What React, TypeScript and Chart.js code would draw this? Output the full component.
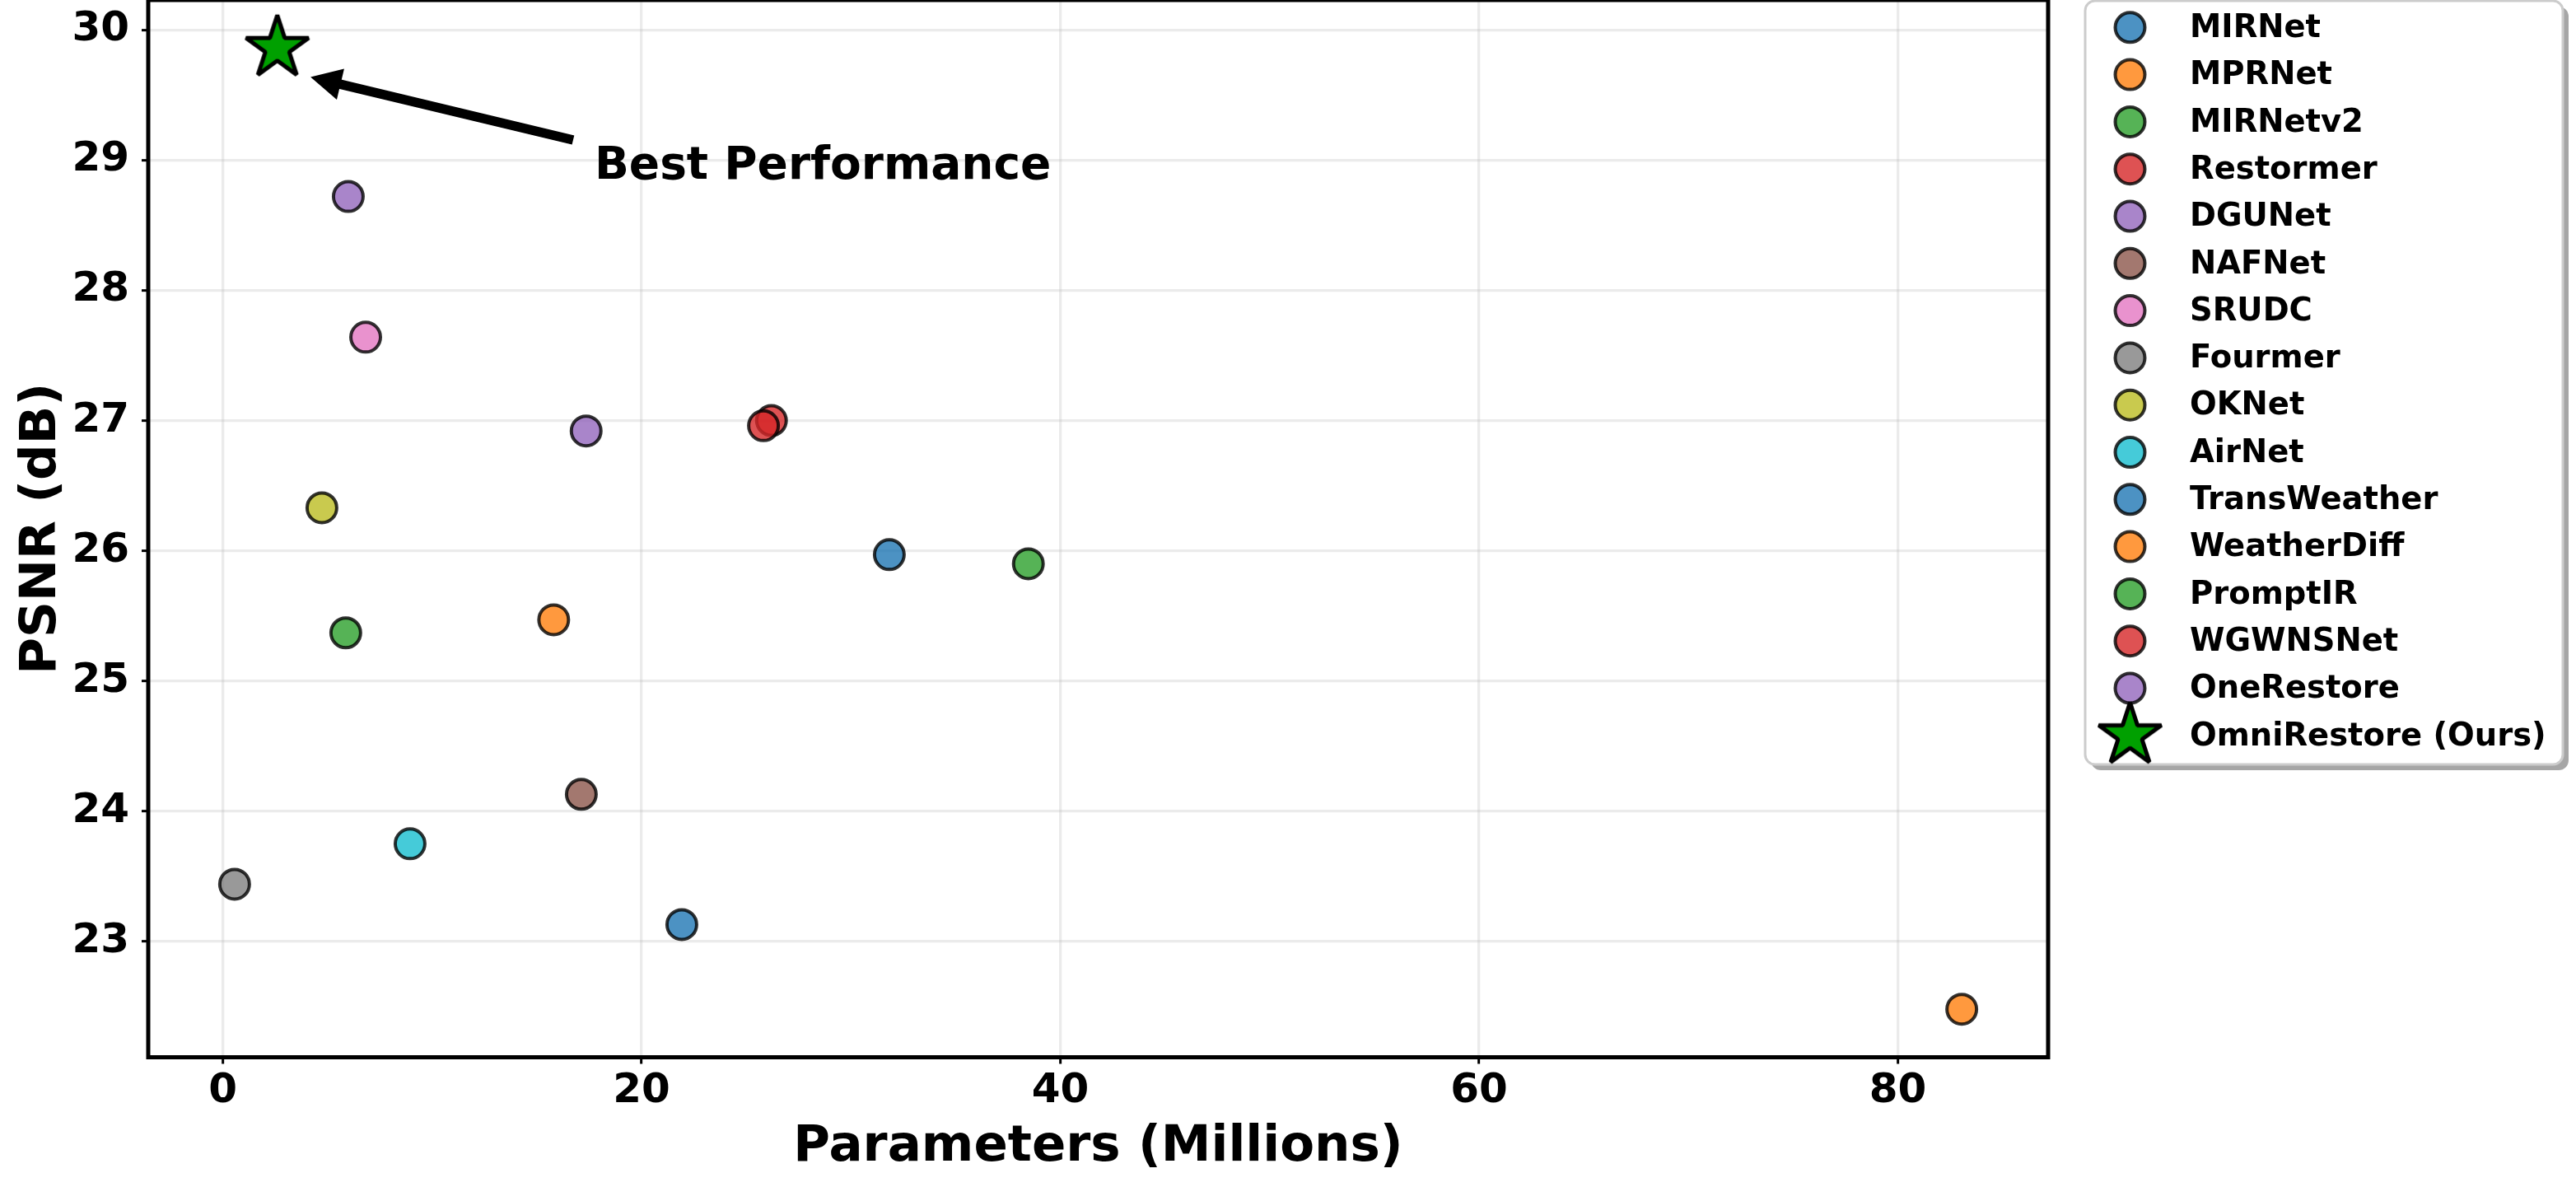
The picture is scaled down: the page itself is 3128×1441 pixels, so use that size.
import React, { useEffect, useRef } from 'react';
import { Chart, registerables } from 'chart.js';

Chart.register(...registerables);

// ---- data ---------------------------------------------------------------
const methods = [
  'MIRNet', 'MPRNet', 'MIRNetv2', 'Restormer', 'DGUNet', 'NAFNet', 'SRUDC', 'Fourmer',
  'OKNet', 'AirNet', 'TransWeather', 'WeatherDiff', 'PromptIR', 'WGWNSNet', 'OneRestore',
  'OmniRestore (Ours)',
];
// parameter count in millions
const params = [31.83, 15.8, 5.87, 26.2, 17.35, 17.12, 6.82, 0.56, 4.73, 8.94, 21.92, 83.05, 38.47, 25.82, 5.99, 2.6];
// PSNR in dB
const psnr = [25.97, 25.47, 25.37, 27.0, 26.92, 24.13, 27.64, 23.44, 26.33, 23.75, 23.13, 22.48, 25.9, 26.96, 28.72, 29.86];

const xTickStep = 20;
const yTickStep = 1;
const annotationText = 'Best Performance';

// ---- styling ------------------------------------------------------------
const FONT = "'DejaVu Sans', 'Liberation Sans', sans-serif";
const TAB = [
  [31, 119, 180], [255, 127, 14], [44, 160, 44], [214, 39, 40], [148, 103, 189],
  [140, 86, 75], [227, 119, 194], [127, 127, 127], [188, 189, 34], [23, 190, 207],
];
const ALPHA = 0.8;
const fillFor = (i: number) => {
  const c = TAB[i % TAB.length];
  return `rgba(${c[0]},${c[1]},${c[2]},${ALPHA})`;
};
const EDGE = 'rgba(0,0,0,0.8)';
const STAR_FILL = '#00a000';
const GRID = 'rgba(176,176,176,0.25)';

const W = 3128;
const H = 1441;

function makeStar(R: number, fill: string, stroke: string, lw: number): HTMLCanvasElement {
  const size = Math.ceil(2 * R + lw * 4) + 1;
  const c = document.createElement('canvas');
  c.width = size;
  c.height = size;
  const ctx = c.getContext('2d')!;
  const cx = size / 2;
  const cy = size / 2;
  const r = R * 0.381966;
  ctx.beginPath();
  for (let k = 0; k < 10; k++) {
    const ang = -Math.PI / 2 + (k * Math.PI) / 5;
    const rr = k % 2 === 0 ? R : r;
    const px = cx + rr * Math.cos(ang);
    const py = cy + rr * Math.sin(ang);
    if (k === 0) ctx.moveTo(px, py);
    else ctx.lineTo(px, py);
  }
  ctx.closePath();
  ctx.fillStyle = fill;
  ctx.fill();
  ctx.lineWidth = lw;
  ctx.lineJoin = 'bevel';
  ctx.strokeStyle = stroke;
  ctx.stroke();
  return c;
}

export default function App() {
  const ref = useRef<HTMLCanvasElement>(null);

  useEffect(() => {
    const canvas = ref.current;
    if (!canvas) return;
    const star = makeStar(40, STAR_FILL, '#000', 5);
    const last = methods.length - 1;

    const xLo = Math.min(...params);
    const xHi = Math.max(...params);
    const xPad = 0.05 * (xHi - xLo);
    const yLo = Math.min(...psnr);
    const yHi = Math.max(...psnr);
    const yPad = 0.05 * (yHi - yLo);

    const datasets = methods.map((name, i) => {
      const ours = i === last;
      const fill = ours ? STAR_FILL : fillFor(i);
      return {
        label: name,
        data: [{ x: params[i], y: psnr[i] }],
        showLine: false,
        backgroundColor: fill,
        borderColor: EDGE,
        pointStyle: ours ? (star as any) : 'circle',
        pointRadius: ours ? 20 : 18,
        pointBackgroundColor: fill,
        pointBorderColor: EDGE,
        pointBorderWidth: 4,
        order: -i,
      };
    });

    // spines, annotation arrow and text, axis titles, legend
    const decorations = {
      id: 'decorations',
      afterDraw(chart: any) {
        const { ctx, chartArea: a, scales } = chart;
        const xs = scales.x;
        const ys = scales.y;

        // spines
        ctx.save();
        ctx.strokeStyle = '#000';
        ctx.lineWidth = 5;
        ctx.strokeRect(a.left, a.top, a.right - a.left, a.bottom - a.top);
        ctx.restore();

        // annotation arrow pointing at our method
        const tipX = xs.getPixelForValue(params[last] + 1.65);
        const tipY = ys.getPixelForValue(psnr[last] - 0.225);
        const tailX = xs.getPixelForValue(params[last] + 14.1);
        const tailY = ys.getPixelForValue(psnr[last] - 0.705);
        const dx = tipX - tailX;
        const dy = tipY - tailY;
        const len = Math.hypot(dx, dy);
        const ux = dx / len;
        const uy = dy / len;
        const nx = -uy;
        const ny = ux;
        const headLen = 35;
        const headHalf = 18;
        const shaftHalf = 5;
        const bx = tipX - ux * headLen;
        const by = tipY - uy * headLen;
        ctx.save();
        ctx.fillStyle = '#000';
        ctx.strokeStyle = '#000';
        ctx.lineWidth = 1.5;
        ctx.lineJoin = 'miter';
        ctx.beginPath();
        ctx.moveTo(tailX + nx * shaftHalf, tailY + ny * shaftHalf);
        ctx.lineTo(bx + nx * shaftHalf, by + ny * shaftHalf);
        ctx.lineTo(bx + nx * headHalf, by + ny * headHalf);
        ctx.lineTo(tipX, tipY);
        ctx.lineTo(bx - nx * headHalf, by - ny * headHalf);
        ctx.lineTo(bx - nx * shaftHalf, by - ny * shaftHalf);
        ctx.lineTo(tailX - nx * shaftHalf, tailY - ny * shaftHalf);
        ctx.closePath();
        ctx.fill();
        ctx.stroke();

        ctx.font = `bold 55px ${FONT}`;
        ctx.textAlign = 'left';
        ctx.textBaseline = 'alphabetic';
        ctx.fillText(annotationText, xs.getPixelForValue(17.75), ys.getPixelForValue(28.858));
        ctx.restore();

        // axis titles
        ctx.save();
        ctx.fillStyle = '#000';
        ctx.font = `bold 61px ${FONT}`;
        ctx.textAlign = 'center';
        ctx.textBaseline = 'alphabetic';
        ctx.fillText('Parameters (Millions)', (a.left + a.right) / 2, 1409);
        ctx.translate(67, (a.top + a.bottom) / 2);
        ctx.rotate(-Math.PI / 2);
        ctx.fillText('PSNR (dB)', 0, 0);
        ctx.restore();

        // legend
        const L = 2532;
        const T = 1;
        const R = 3112;
        const B = 928;
        const rad = 12;
        ctx.save();
        ctx.fillStyle = 'rgba(0,0,0,0.35)';
        ctx.beginPath();
        ctx.roundRect(L + 7, T + 7, R - L, B - T, rad);
        ctx.fill();
        ctx.fillStyle = '#fff';
        ctx.strokeStyle = '#cccccc';
        ctx.lineWidth = 3;
        ctx.beginPath();
        ctx.roundRect(L, T, R - L, B - T, rad);
        ctx.fill();
        ctx.stroke();

        const rowY0 = 33.3;
        const rowStep = 57.3;
        const mx = 2586.5;
        ctx.font = `bold 38.5px ${FONT}`;
        ctx.textAlign = 'left';
        ctx.textBaseline = 'alphabetic';
        methods.forEach((name, i) => {
          const cy = rowY0 + i * rowStep;
          if (i === last) {
            ctx.drawImage(star, mx - star.width / 2, cy - star.height / 2);
          } else {
            ctx.beginPath();
            ctx.arc(mx, cy, 18, 0, Math.PI * 2);
            ctx.fillStyle = fillFor(i);
            ctx.fill();
            ctx.lineWidth = 4;
            ctx.strokeStyle = EDGE;
            ctx.stroke();
          }
          ctx.fillStyle = '#000';
          ctx.fillText(name, 2659, cy + 11.7);
        });
        ctx.restore();
      },
    };

    const tickFont = { family: FONT, size: 50, weight: 'bold' as const };
    const noEdgePadding = (s: any) => {
      s.paddingTop = 0;
      s.paddingBottom = 0;
      s.paddingLeft = 0;
      s.paddingRight = 0;
    };

    const chart = new Chart(canvas, {
      type: 'scatter',
      data: { datasets: datasets as any },
      options: {
        animation: false,
        responsive: false,
        events: [],
        layout: { autoPadding: false, padding: { top: -2, right: W - 2487, left: 0, bottom: 0 } },
        plugins: {
          legend: { display: false },
          tooltip: { enabled: false },
        },
        scales: {
          x: {
            type: 'linear',
            min: xLo - xPad,
            max: xHi + xPad,
            afterFit: (s: any) => {
              s.height = 157.5;
              noEdgePadding(s);
            },
            border: { display: false },
            grid: { color: GRID, lineWidth: 3.3, tickColor: '#000', tickWidth: 3, tickLength: 8 },
            ticks: {
              stepSize: xTickStep,
              includeBounds: false,
              autoSkip: false,
              maxRotation: 0,
              color: '#000',
              font: tickFont,
              padding: 4,
            },
          },
          y: {
            type: 'linear',
            min: yLo - yPad,
            max: yHi + yPad,
            afterFit: (s: any) => {
              s.width = 180;
              noEdgePadding(s);
            },
            border: { display: false },
            grid: { color: GRID, lineWidth: 3.3, tickColor: '#000', tickWidth: 3, tickLength: 8 },
            ticks: {
              stepSize: yTickStep,
              includeBounds: false,
              autoSkip: false,
              color: '#000',
              font: tickFont,
              padding: 15,
            },
          },
        },
      },
      plugins: [decorations],
    });

    return () => chart.destroy();
  }, []);

  return (
    <div style={{ position: 'fixed', left: 0, top: 0, width: W, height: H, background: '#fff' }}>
      <canvas ref={ref} width={W} height={H} style={{ width: W, height: H, display: 'block' }} />
    </div>
  );
}
